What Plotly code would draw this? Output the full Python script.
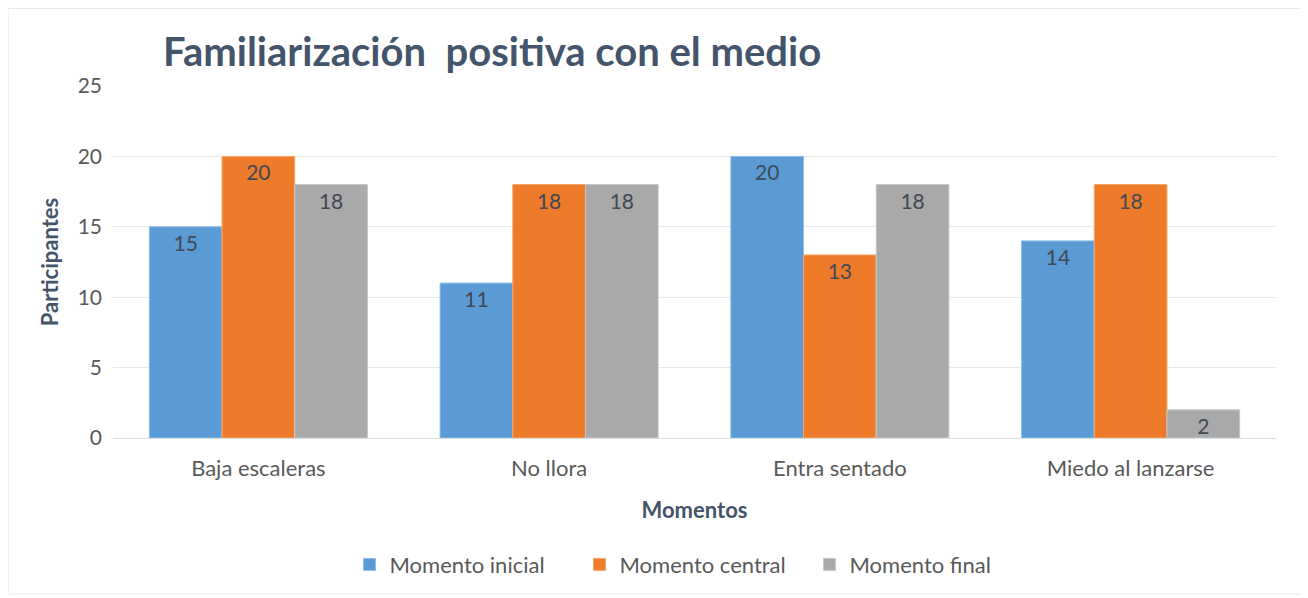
import plotly.graph_objects as go

categories = ["Baja escaleras", "No llora", "Entra sentado", "Miedo al lanzarse"]
series_names = ["Momento inicial", "Momento central", "Momento final"]
inicial = [15, 11, 20, 14]
central = [20, 18, 13, 18]
final = [18, 18, 18, 2]

colors = ["#5B9BD5", "#EE7B2A", "#A9A9A9"]
edges = ["#8DBCE8", "#F5A56A", "#C8C8C8"]
font_family = "Lato, Open Sans, DejaVu Sans, sans-serif"

# page is drawn with an 8px body margin, so figure coords = page coords - 8
L, T, W, H = 105, 78, 1163, 352

fig = go.Figure()
for name, vals, col, edge in zip(series_names, [inicial, central, final], colors, edges):
    fig.add_trace(go.Bar(
        x=categories, y=vals, name=name,
        marker=dict(color=col, line=dict(color=edge, width=1)),
        text=vals, textposition="inside", insidetextanchor="end",
        textangle=0, constraintext="none",
        textfont=dict(color="#404854", size=21, family=font_family),
    ))

fig.update_layout(
    width=1308, height=598,
    margin=dict(l=L, r=1308 - L - W, t=T, b=598 - T - H),
    paper_bgcolor="white", plot_bgcolor="white",
    bargap=0.25, bargroupgap=0,
    font=dict(family=font_family, color="#595959"),
    title=dict(text="<b>Familiarización  positiva con el medio</b>",
               x=155 / 1308, xanchor="left", y=1 - 44 / 598, yanchor="middle",
               font=dict(size=40, color="#44546A", family=font_family)),
    xaxis=dict(showgrid=False, tickfont=dict(size=22, color="#595959"),
               ticklabelstandoff=15,
               title=dict(text="<b>Momentos</b>", font=dict(size=22, color="#44546A"), standoff=22),
               showline=False, ticks=""),
    yaxis=dict(range=[0, 25], dtick=5, gridcolor="#E4E8EE", gridwidth=1,
               zeroline=True, zerolinecolor="#D9DEE5", zerolinewidth=1,
               tickfont=dict(size=21, color="#595959"), ticks="", ticklen=0,
               ticklabelstandoff=10,
               title=dict(text="<b>Participantes</b>", font=dict(size=22, color="#44546A"), standoff=12)),
    legend=dict(orientation="h", x=0.5, xanchor="center", y=-0.30, yanchor="top",
                bgcolor="rgba(0,0,0,0)", entrywidth=185, entrywidthmode="pixels",
                font=dict(size=22, color="#595959"), traceorder="normal"),
    shapes=[dict(type="rect", xref="paper", yref="paper",
                 x0=(0 - L) / W, x1=(1294 - L) / W,
                 y0=(T + H - 586) / H, y1=(T + H - 0.5) / H,
                 line=dict(color="#E6E8EB", width=1), layer="below")],
)

fig.write_html("out.html")
